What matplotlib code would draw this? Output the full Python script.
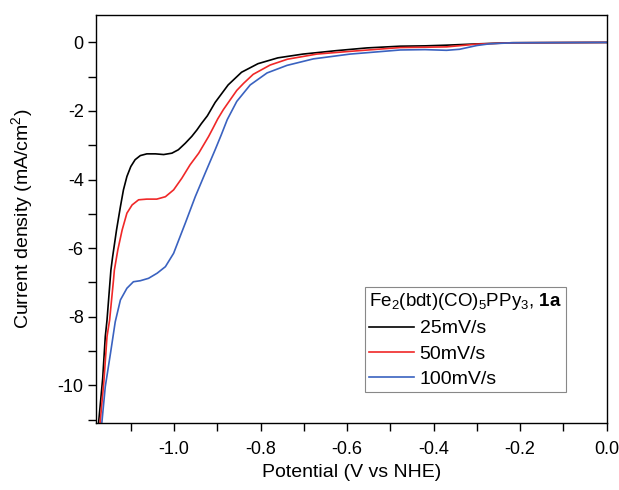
import matplotlib
matplotlib.use("Agg")
import matplotlib.pyplot as plt
from matplotlib.ticker import MultipleLocator, FuncFormatter

plt.rcParams['font.family'] = ['Liberation Sans', 'DejaVu Sans']
plt.rcParams['mathtext.fontset'] = 'custom'
plt.rcParams['mathtext.rm'] = 'Liberation Sans'
plt.rcParams['mathtext.it'] = 'Liberation Sans:italic'
plt.rcParams['mathtext.bf'] = 'Liberation Sans:bold'
plt.rcParams['mathtext.default'] = 'regular'

# values
x_25 = [-1.1745, -1.165, -1.159, -1.155, -1.146, -1.142, -1.133, -1.124, -1.117, -1.109,
        -1.100, -1.090, -1.078, -1.063, -1.043, -1.024, -1.005, -0.990, -0.974, -0.959,
        -0.947, -0.937, -0.923, -0.905, -0.875, -0.844, -0.806, -0.760, -0.702, -0.625,
        -0.554, -0.477, -0.42, -0.37, -0.293, -0.22, 0.0]
y_25 = [-11.1, -9.8, -8.58, -8.10, -6.64, -6.25, -5.47, -4.79, -4.30, -3.91,
        -3.62, -3.42, -3.30, -3.25, -3.25, -3.27, -3.23, -3.13, -2.94, -2.74,
        -2.55, -2.37, -2.14, -1.75, -1.24, -0.87, -0.62, -0.45, -0.34, -0.24,
        -0.16, -0.11, -0.10, -0.08, -0.04, -0.01, 0.0]

x_50 = [-1.171, -1.162, -1.155, -1.149, -1.140, -1.138, -1.130, -1.120, -1.109, -1.097,
        -1.082, -1.063, -1.040, -1.020, -1.001, -0.982, -0.963, -0.943, -0.920, -0.910,
        -0.899, -0.886, -0.870, -0.855, -0.839, -0.817, -0.778, -0.738, -0.670, -0.593,
        -0.477, -0.42, -0.37, -0.30, -0.22, 0.0]
y_50 = [-11.1, -9.85, -8.58, -8.10, -6.93, -6.64, -6.05, -5.47, -4.98, -4.74,
        -4.59, -4.57, -4.57, -4.50, -4.30, -3.96, -3.57, -3.23, -2.74, -2.50,
        -2.23, -1.96, -1.67, -1.40, -1.19, -0.93, -0.66, -0.49, -0.34, -0.26,
        -0.15, -0.14, -0.13, -0.05, -0.01, 0.0]

x_100 = [-1.167, -1.159, -1.147, -1.136, -1.124, -1.109, -1.094, -1.078, -1.059, -1.039,
         -1.020, -1.001, -0.986, -0.974, -0.951, -0.928, -0.905, -0.891, -0.877, -0.855,
         -0.824, -0.785, -0.739, -0.678, -0.593, -0.477, -0.42, -0.37, -0.34, -0.30,
         -0.27, -0.216, 0.0]
y_100 = [-11.1, -10.04, -9.07, -8.15, -7.51, -7.17, -6.98, -6.95, -6.88, -6.73,
         -6.54, -6.15, -5.66, -5.27, -4.50, -3.81, -3.13, -2.70, -2.25, -1.72,
         -1.24, -0.89, -0.67, -0.48, -0.34, -0.22, -0.21, -0.23, -0.20, -0.09,
         -0.04, -0.01, 0.0]

labels = ['25mV/s', '50mV/s', '100mV/s']
colors = ['#000000', '#f02828', '#3a62c0']

fig = plt.figure(figsize=(6.19, 4.9), dpi=100)
ax = fig.add_axes([0.1554, 0.1367, 0.8246, 0.8327])

for xs, ys, lab, c in zip([x_25, x_50, x_100], [y_25, y_50, y_100], labels, colors):
    ax.plot(xs, ys, color=c, lw=1.2, label=lab, solid_joinstyle='round')

ax.set_xlim(-1.18, 0.0)
ax.set_ylim(-11.1, 0.8)
ax.xaxis.set_major_locator(MultipleLocator(0.2))
ax.xaxis.set_minor_locator(MultipleLocator(0.1))
ax.yaxis.set_major_locator(MultipleLocator(2))
ax.yaxis.set_minor_locator(MultipleLocator(1))
ax.tick_params(which='both', direction='out', length=5.5, width=1, labelsize=13)
ax.tick_params(axis='x', which='major', pad=7.5)
ax.xaxis.set_major_formatter(FuncFormatter(lambda v, p: '%.1f' % v))
ax.yaxis.set_major_formatter(FuncFormatter(lambda v, p: '%d' % round(v)))
for s in ax.spines.values():
    s.set_linewidth(1)

ax.set_xlabel('Potential (V vs NHE)', fontsize=14, labelpad=4)
ax.set_ylabel('Current density (mA/cm$^2$)', fontsize=14, labelpad=16)

leg = ax.legend(title='Fe$_2$(bdt)(CO)$_5$PPy$_3$, $\\mathbf{1a}$', loc='lower left',
                bbox_to_anchor=(0.527, 0.076), fontsize=14, title_fontsize=13.5,
                fancybox=False, edgecolor='#888888', framealpha=1,
                handlelength=2.3, borderaxespad=0, borderpad=0.2,
                labelspacing=0.4, handletextpad=0.3)
leg._legend_box.align = 'left'
leg.get_frame().set_linewidth(0.8)

fig.savefig('out.png', dpi=100)
